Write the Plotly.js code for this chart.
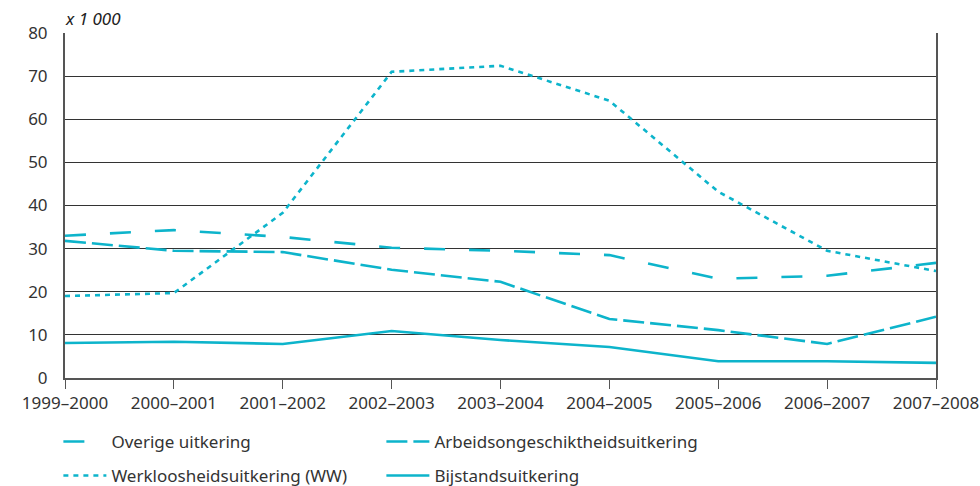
<!DOCTYPE html>
<html><head><meta charset="utf-8">
<script src="https://cdn.plot.ly/plotly-3.0.1.min.js"></script>
<style>html,body{margin:0;padding:0;background:#fff;}#chart{width:980px;height:486px;}</style>
</head><body><div id="chart"></div>
<script>
const years = ["1999–2000","2000–2001","2001–2002","2002–2003","2003–2004","2004–2005","2005–2006","2006–2007","2007–2008"];
const overige = [33.0, 34.3, 32.7, 30.2, 29.5, 28.5, 23.0, 23.7, 26.7];
const arbeid = [31.8, 29.5, 29.2, 25.1, 22.3, 13.7, 11.1, 7.9, 14.2];
const ww = [19.0, 19.7, 38.3, 71.0, 72.4, 64.3, 43.2, 29.5, 24.8];
const bijstand = [8.1, 8.4, 7.9, 10.9, 8.8, 7.2, 3.9, 3.9, 3.5];
const yTicks = [0,10,20,30,40,50,60,70,80];

const col = '#0db4cb';
const F = 'Noto Sans, Open Sans, sans-serif';
function tr(name, y, dash, lg){
  return {x: years, y: y, name: name, type:'scatter', mode:'lines',
    line:{color:col, width:2.6, dash:dash}, legend: lg, hoverinfo:'skip'};
}
const data = [
  tr('Overige uitkering', overige, '21px,24px', 'legend'),
  tr('Arbeidsongeschiktheidsuitkering', arbeid, '21px,6px', 'legend'),
  tr('Werkloosheidsuitkering (WW)', ww, '5px,5px', 'legend2'),
  tr('Bijstandsuitkering', bijstand, 'solid', 'legend2')
];
const legBase = {orientation:'h', xanchor:'left', yanchor:'middle', entrywidth:265, entrywidthmode:'pixels',
  itemwidth:43,
  font:{family:F, size:17, color:'#333'}, bgcolor:'rgba(0,0,0,0)', itemclick:false, itemdoubleclick:false};
const layout = {
  width:980, height:486,
  margin:{l:65, r:44, t:33, b:108, autoexpand:false},
  paper_bgcolor:'#fff', plot_bgcolor:'#fff',
  font:{family:F, size:17, color:'#333'},
  showlegend:true,
  legend: Object.assign({}, legBase, {x:-0.0076, y:-0.1855}),
  legend2: Object.assign({}, legBase, {x:-0.0076, y:-0.284}),
  xaxis:{type:'category', range:[0,8], showgrid:false, showline:true, linecolor:'#555', linewidth:2,
    ticks:'outside', ticklen:9, tickcolor:'#555', tickwidth:1, tickfont:{family:F,size:17,color:'#333'},
    fixedrange:true, zeroline:false, automargin:false},
  yaxis:{range:[0,80], tickvals:yTicks, showgrid:true, gridcolor:'#333', gridwidth:1, showline:true,
    linecolor:'#555', linewidth:2, mirror:true, ticks:'', tickfont:{family:F,size:17,color:'#333'},
    ticklabelstandoff:12, zeroline:false, fixedrange:true, automargin:false},
  annotations:[{text:'<i>x 1 000</i>', xref:'paper', yref:'paper', x:0, y:1, xanchor:'left', yanchor:'bottom',
    yshift:1, xshift:-2, showarrow:false, font:{family:F, size:17, color:'#222'}}]
};
Plotly.newPlot('chart', data, layout, {displayModeBar:false, staticPlot:true});
</script></body></html>
